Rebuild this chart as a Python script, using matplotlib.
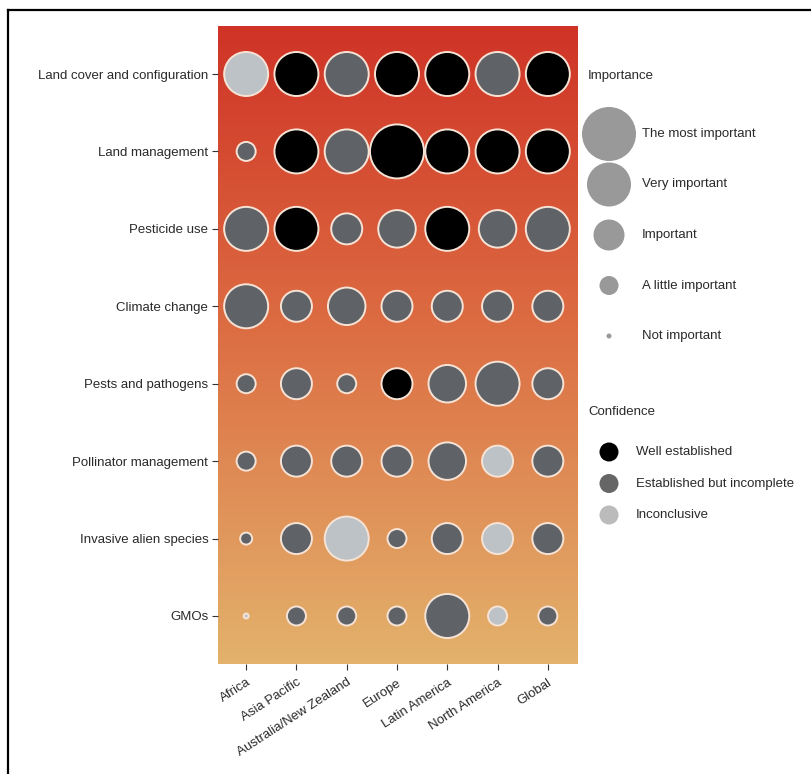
import numpy as np
import matplotlib
matplotlib.use("Agg")
import matplotlib.pyplot as plt
from matplotlib.colors import LinearSegmentedColormap
from matplotlib.lines import Line2D

plt.rcParams['font.family'] = ['Liberation Sans', 'DejaVu Sans']

# drivers (rows) and regions (columns)
drivers = ['Land cover and configuration', 'Land management', 'Pesticide use',
           'Climate change', 'Pests and pathogens', 'Pollinator management',
           'Invasive alien species', 'GMOs']
regions = ['Africa', 'Asia Pacific', 'Australia/New Zealand', 'Europe',
           'Latin America', 'North America', 'Global']

# importance score: 0 = not important ... 4 = the most important
importance = [
    [3, 3, 3, 3, 3, 3, 3],
    [1, 3, 3, 4, 3, 3, 3],
    [3, 3, 2, 2.5, 3, 2.5, 3],
    [3, 2, 2.5, 2, 2, 2, 2],
    [1, 2, 1, 2, 2.5, 3, 2],
    [1, 2, 2, 2, 2.5, 2, 2],
    [0.5, 2, 3, 1, 2, 2, 2],
    [0, 1, 1, 1, 3, 1, 1],
]
# confidence: 0 = well established, 1 = established but incomplete, 2 = inconclusive
confidence = [
    [2, 0, 1, 0, 0, 1, 0],
    [1, 0, 1, 0, 0, 0, 0],
    [1, 0, 1, 1, 0, 1, 1],
    [1, 1, 1, 1, 1, 1, 1],
    [1, 1, 1, 0, 1, 1, 1],
    [1, 1, 1, 1, 1, 2, 1],
    [1, 1, 2, 1, 1, 2, 1],
    [2, 1, 1, 1, 1, 2, 1],
]

importance_levels = [4, 3, 2, 1, 0]
importance_labels = ['The most important', 'Very important', 'Important',
                     'A little important', 'Not important']
confidence_labels = ['Well established', 'Established but incomplete', 'Inconclusive']
confidence_colors = ['#000000', '#5f6367', '#bcc2c5']
legend_conf_colors = ['#000000', '#666666', '#bbbbbb']

DPI = 100


def bubble_size(score):
    # diameter in pixels -> marker area in points^2
    diam = np.interp(score, [0, 1, 2, 3, 4], [5, 19, 31, 44, 54])
    return (diam * 72.0 / DPI) ** 2


fig = plt.figure(figsize=(8.11, 7.74), dpi=DPI)
W, H = 811.0, 774.0
ax = fig.add_axes([218 / W, 1 - 664 / H, 360 / W, 638 / H])

# red-to-sand vertical gradient behind the bubbles
grad = LinearSegmentedColormap.from_list(
    'bg', [(0, '#cf3326'), (0.45, '#dc6a41'), (1, '#e3b26c')])
ax.imshow(np.linspace(0, 1, 256).reshape(-1, 1), cmap=grad, aspect='auto',
          extent=[-0.56, 6.6, 7.62, -0.62], zorder=0)

imp = np.array(importance, dtype=float)
conf = np.array(confidence)
yy, xx = np.meshgrid(np.arange(len(drivers)), np.arange(len(regions)), indexing='ij')
colors = np.array(confidence_colors)[conf.ravel()]
ax.scatter(xx.ravel(), yy.ravel(), s=bubble_size(imp.ravel()), c=colors,
           edgecolors='#f6e3d6', linewidths=1.4, zorder=3)

ax.set_xlim(-0.56, 6.6)
ax.set_ylim(7.62, -0.62)
ax.set_xticks(range(len(regions)))
ax.set_yticks(range(len(drivers)))
ax.set_yticklabels(drivers, fontsize=9.5, color='#2a2a2a')
ax.set_xticklabels(regions, fontsize=9.5, color='#2a2a2a', rotation=33,
                   ha='right', va='top', rotation_mode='anchor')
ax.tick_params(axis='y', length=4, width=0.8, pad=3, color='#333333')
ax.tick_params(axis='x', length=4, width=0.8, pad=5, color='#333333')
for sp in ax.spines.values():
    sp.set_visible(False)

# legend panel
lax = fig.add_axes([580 / W, 1 - 664 / H, 231 / W, 638 / H])
lax.set_xlim(0, 231)
lax.set_ylim(638, 0)
lax.axis('off')

lax.text(8, 50, 'Importance', fontsize=9.5, color='#2a2a2a', va='center')
imp_rows = 108 + 50.5 * np.arange(len(importance_levels))
lax.scatter(np.full(len(importance_levels), 29), imp_rows,
            s=bubble_size(np.array(importance_levels, dtype=float)),
            c='#999999', edgecolors='none')
for y, lab in zip(imp_rows, importance_labels):
    lax.text(62, y, lab, fontsize=9.5, color='#2a2a2a', va='center')

lax.text(8, 386, 'Confidence', fontsize=9.5, color='#2a2a2a', va='center')
conf_rows = 426 + 31.5 * np.arange(len(confidence_labels))
lax.scatter(np.full(len(confidence_labels), 29), conf_rows,
            s=bubble_size(1), c=legend_conf_colors, edgecolors='none')
for y, lab in zip(conf_rows, confidence_labels):
    lax.text(56, y, lab, fontsize=9.5, color='#2a2a2a', va='center')

# outer frame (top and left edges)
fig.add_artist(Line2D([8 / W, 1], [1 - 10 / H, 1 - 10 / H], color='black', lw=1.6))
fig.add_artist(Line2D([8 / W, 8 / W], [0, 1 - 10 / H], color='black', lw=1.6))

fig.savefig('out.png', dpi=DPI)
